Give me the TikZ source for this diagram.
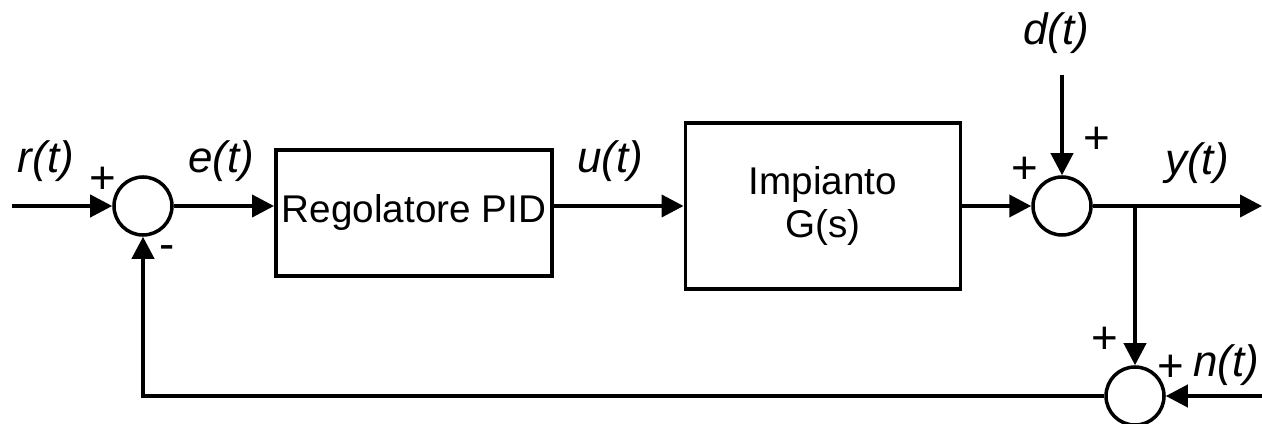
\documentclass[tikz,border=0pt]{standalone}
\usepackage{fontspec}
\setmainfont{Liberation Sans}
\usetikzlibrary{arrows.meta, positioning}

\begin{document}
\begin{tikzpicture}[
    block/.style={rectangle, draw, line width=2.2pt, minimum width=5.5cm, align=center, font=\fontsize{22}{24}\selectfont},
    sum/.style={circle, draw, line width=2pt, minimum size=1.16cm, inner sep=0pt},
    sig/.style={font=\fontsize{25}{28}\selectfont\itshape},
    sign/.style={font=\fontsize{26}{28}\selectfont},
    arrow/.style={line width=2.2pt, -{Triangle[length=0.44cm, width=0.44cm]}}
]
\useasboundingbox (0,0) rectangle (25.24,8.46);

% blocks and summing junctions
\node[sum] (sumA) at (2.86,4.34) {};
\node[block, minimum height=2.52cm] (pid) at (8.28,4.2) {Regolatore PID};
\node[block, minimum height=3.32cm] (plant) at (16.46,4.34) {Impianto\\G(s)};
\node[sum] (sumB) at (21.24,4.34) {};
\node[sum] (sumC) at (22.70,0.54) {};

\coordinate (rin) at (0.24,4.34);
\coordinate (yout) at (25.24,4.34);
\coordinate (dtop) at (21.24,6.96);
\coordinate (nin) at (25.24,0.54);
\coordinate (branch) at (22.70,4.34);

% signals
\draw[arrow] (rin) -- (sumA);
\draw[arrow] (sumA) -- (sumA -| pid.west);
\draw[arrow] (pid.east |- sumA) -- (plant.west |- sumA);
\draw[arrow] (plant) -- (sumB);
\draw[arrow] (dtop) -- (sumB);
\draw[arrow] (sumB) -- (yout);
\draw[arrow] (branch) -- (sumC);
\draw[arrow] (nin) -- (sumC);
\draw[arrow] (sumC) -| (sumA);

% labels
\node[sig] (rlbl) at (0.92,5.24) {r(t)};
\node[sig] (elbl) at (4.42,5.24) {e(t)};
\node[sig] (ulbl) at (12.2,5.24) {u(t)};
\node[sig] (dlbl) at (21.12,7.8) {d(t)};
\node[sig] (ylbl) at (23.94,5.2) {y(t)};
\node[sig, anchor=east, inner sep=1pt] (nlbl) at (25.22,1.16) {n(t)};

\node[sign] (pA) at (2.06,4.86) {+};
\node[sign] (mA) at (3.34,3.40) {-};
\node[sign] (pB1) at (20.5,5.06) {+};
\node[sign] (pB2) at (21.94,5.66) {+};
\node[sign] (pC1) at (22.1,1.66) {+};
\node[sign] (pC2) at (23.42,1.1) {+};

\end{tikzpicture}
\end{document}
